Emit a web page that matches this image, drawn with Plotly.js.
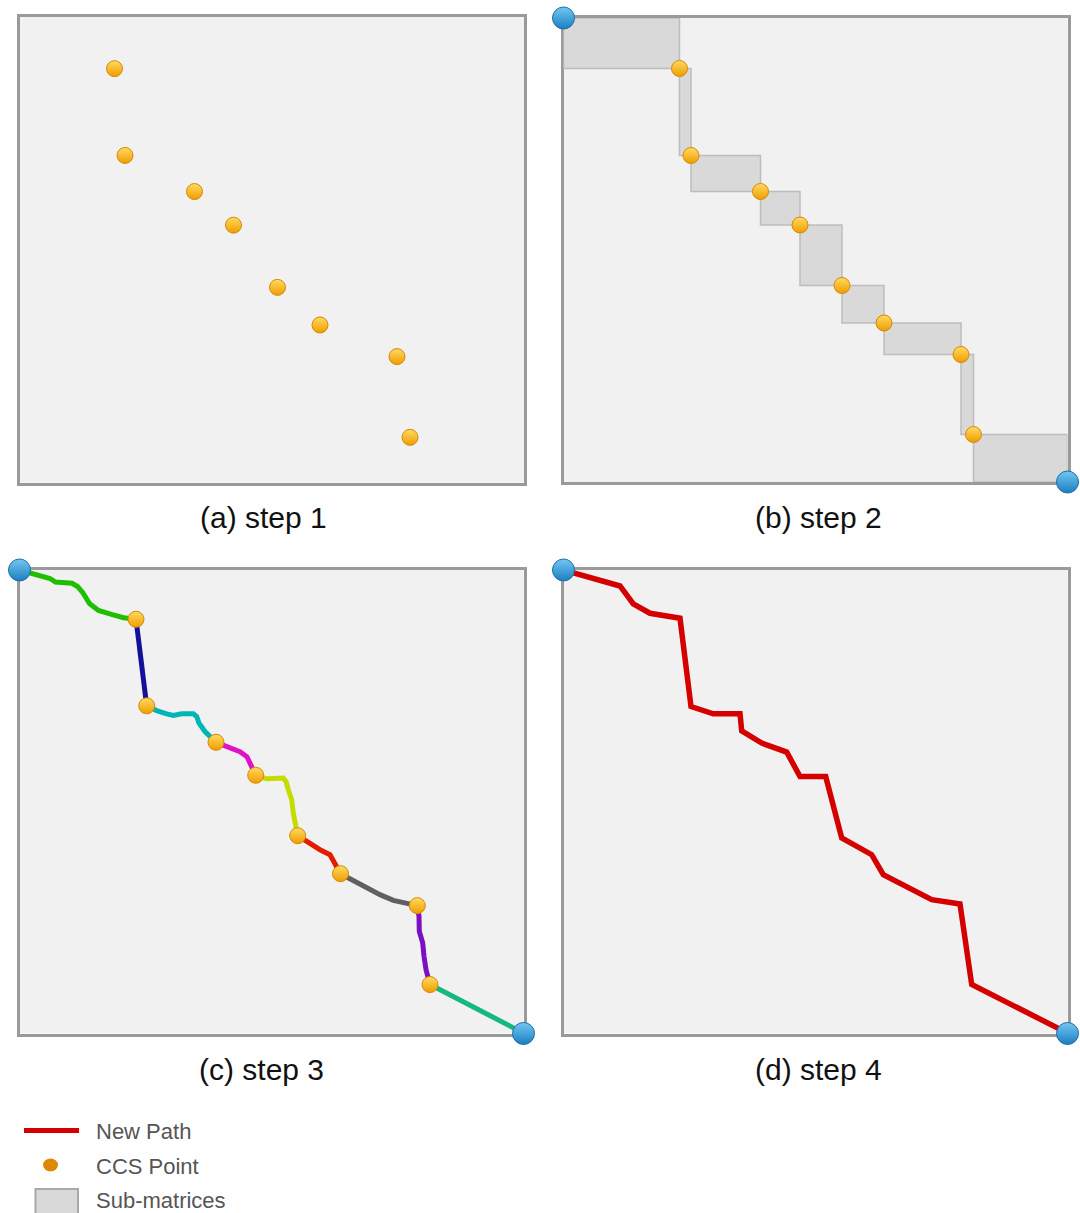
<!DOCTYPE html>
<html><head><meta charset="utf-8">
<script src="https://cdn.plot.ly/plotly-3.0.1.min.js"></script>
<style>html,body{margin:0;padding:0;background:#fff;} #chart{width:1080px;height:1213px;}</style>
</head><body><div id="chart"></div>
<script>
// ---------- DATA (matrix cell coordinates, y grows downward) ----------
const matrixW = 504;
const matrixH = 464;

// (a) step 1 : CCS points
const step1X = [94.5, 105, 174.5, 213.5, 257.5, 300, 377, 390];
const step1Y = [51.5, 138, 174, 207.5, 269.5, 307, 338.5, 419];

// (b) step 2 : CCS points (sub-matrices span consecutive points)
const step2X = [116, 127.5, 197, 236.5, 278.5, 320.5, 397.5, 410];
const step2Y = [50.5, 137.5, 173.5, 207, 267.5, 305, 336.5, 416.5];

// (c) step 3 : CCS points and the warping path found in each sub-matrix
const step3X = [116.5, 127.2, 196.5, 236.2, 278.2, 321, 397.8, 410.5];
const step3Y = [49.3, 136, 172.5, 205.5, 266, 304, 336, 415];
const step3SegX = [
  [0, 12.5, 30.5, 36, 52.5, 58, 63.5, 70, 79, 92, 104, 116.5],
  [116.5, 121.8, 127.2],
  [127.2, 137.2, 147.2, 153.8, 162.2, 173.8, 177.2, 179.5, 185.5, 196.5],
  [196.5, 207.5, 220.5, 227.5, 232.5, 236.2],
  [236.2, 247.2, 263.8, 266.5, 268.8, 272.2, 273.8, 276.2, 278.2],
  [278.2, 288.8, 300.5, 310.5, 315.5, 321],
  [321, 330.5, 338.8, 348.8, 360.5, 373.8, 387.2, 397.8],
  [397.8, 399.5, 399.8, 403.2, 404.5, 406.5, 410.5],
  [410.5, 504]
];
const step3SegY = [
  [0, 3.5, 8.5, 12, 13.3, 16.5, 23, 33.5, 40.5, 44.5, 47.8, 49.3],
  [49.3, 92, 136],
  [136, 140.7, 144, 145.7, 144, 144, 146.7, 153.3, 161.7, 172.5],
  [172.5, 177, 182, 187, 197, 205.5],
  [205.5, 209, 208.3, 211.7, 220, 230, 243.3, 255, 266],
  [266, 273.3, 280, 285, 293.3, 304],
  [304, 309.3, 314, 318.3, 325, 330.7, 333.3, 336],
  [336, 346.7, 361.7, 373.3, 386.7, 400, 415],
  [415, 463.5]
];

// (d) step 4 : the new (merged) path
const step4PathX = [0, 56.5, 69.8, 86.5, 116.5, 127.5, 149.8, 176.5, 178.2, 198.2, 223.2, 236.5, 262.2, 278.2, 308.2, 319.8, 368.2, 396.5, 408.2, 504];
const step4PathY = [0, 16, 34, 43.3, 48.3, 136.7, 144, 144, 161, 173.3, 182.3, 206.7, 206.7, 268.3, 285, 305, 330, 334.3, 415, 463.5];

// start / end cells of the full matrix
const endX = [0, matrixW];
const endY = [0, matrixH];

// labels
const panelLabels = ['(a) step 1', '(b) step 2', '(c) step 3', '(d) step 4'];
const legendLabels = ['New Path', 'CCS Point', 'Sub-matrices'];

// ---------- STYLE ----------
const W = 1080, H = 1213;
const segColors = ['#1fbe00', '#14109c', '#00b5b5', '#e012c6', '#c6dc00', '#e31b00', '#606060', '#7a0fc4', '#14b97e'];
const ccsMarker = {size: 16, color: '#ffdb62', gradient: {type: 'vertical', color: '#f09c00'}, line: {color: '#d48a00', width: 1}};
const endMarker = {size: 22, color: '#74c6f2', gradient: {type: 'vertical', color: '#1a7fc0'}, line: {color: '#1d6fa5', width: 1}};

const px = v => v / W;
const py = v => 1 - v / H;

const traces = [];
function ccs(xs, ys, ax) {
  traces.push({x: xs, y: ys, xaxis: 'x' + ax, yaxis: 'y' + ax, type: 'scatter', mode: 'markers',
    marker: ccsMarker, cliponaxis: false, hoverinfo: 'skip'});
}
function ends(ax) {
  traces.push({x: endX, y: endY, xaxis: 'x' + ax, yaxis: 'y' + ax, type: 'scatter', mode: 'markers',
    marker: endMarker, cliponaxis: false, hoverinfo: 'skip'});
}

// (a)
ccs(step1X, step1Y, '');

// (b) sub-matrices between consecutive points
const bx = [0].concat(step2X, [matrixW]);
const by = [0].concat(step2Y, [matrixH]);
const rx = [], ry = [];
for (let i = 0; i < bx.length - 1; i++) {
  rx.push(bx[i], bx[i + 1], bx[i + 1], bx[i], bx[i], null);
  ry.push(by[i], by[i], by[i + 1], by[i + 1], by[i], null);
}
traces.push({x: rx, y: ry, xaxis: 'x2', yaxis: 'y2', type: 'scatter', mode: 'lines', fill: 'toself',
  fillcolor: '#d9d9d9', line: {color: '#bdbdbd', width: 1.5}, hoverinfo: 'skip'});
ccs(step2X, step2Y, '2');
ends('2');

// (c)
step3SegX.forEach((sx, i) => {
  traces.push({x: sx, y: step3SegY[i], xaxis: 'x3', yaxis: 'y3', type: 'scatter', mode: 'lines',
    line: {color: segColors[i], width: 5}, hoverinfo: 'skip'});
});
ccs(step3X, step3Y, '3');
ends('3');

// (d)
traces.push({x: step4PathX, y: step4PathY, xaxis: 'x4', yaxis: 'y4', type: 'scatter', mode: 'lines',
  line: {color: '#d40000', width: 5.5}, hoverinfo: 'skip'});
ends('4');

// panel boxes (inner edges, px)
const boxes = [
  [20, 524, 17, 482.5],
  [563.5, 1067.5, 18, 482],
  [19.5, 523.5, 570, 1033.5],
  [563.5, 1067.5, 570, 1033.5]
];
const layout = {
  width: W, height: H, margin: {l: 0, r: 0, t: 0, b: 0},
  paper_bgcolor: '#ffffff', plot_bgcolor: '#f1f1f1', showlegend: false,
  font: {family: 'Liberation Sans, Arial, sans-serif'},
  shapes: [], annotations: []
};
boxes.forEach((b, i) => {
  const s = i === 0 ? '' : String(i + 1);
  const common = {showgrid: false, zeroline: false, showticklabels: false, ticks: '',
    showline: true, mirror: true, linecolor: '#9a9a9a', linewidth: 3, layer: 'below traces', fixedrange: true};
  layout['xaxis' + s] = Object.assign({}, common, {domain: [px(b[0]), px(b[1])], range: [0, matrixW], anchor: 'y' + s});
  layout['yaxis' + s] = Object.assign({}, common, {domain: [py(b[3]), py(b[2])], range: [matrixH, 0], anchor: 'x' + s});
});

const labelPos = [[263, 517], [818, 518], [261, 1069], [818, 1069]];
panelLabels.forEach((t, i) => {
  layout.annotations.push({text: t, xref: 'paper', yref: 'paper', x: px(labelPos[i][0]), y: py(labelPos[i][1]),
    xanchor: 'center', yanchor: 'middle', showarrow: false, font: {size: 30, color: '#111111'}});
});

// legend
const legY = [1131, 1166, 1200];
legendLabels.forEach((t, i) => {
  layout.annotations.push({text: t, xref: 'paper', yref: 'paper', x: px(94), y: py(legY[i]),
    xanchor: 'left', yanchor: 'middle', showarrow: false, font: {size: 22, color: '#555555'}});
});
layout.shapes.push({type: 'line', xref: 'paper', yref: 'paper', x0: px(24), x1: px(79), y0: py(1130.5), y1: py(1130.5),
  line: {color: '#d40000', width: 5}});
layout.shapes.push({type: 'circle', xref: 'paper', yref: 'paper', x0: px(43), x1: px(58), y0: py(1158.5), y1: py(1171.5),
  fillcolor: '#dd8800', line: {width: 0}});
layout.shapes.push({type: 'rect', xref: 'paper', yref: 'paper', x0: px(35.5), x1: px(78), y0: py(1189), y1: py(1216),
  fillcolor: '#d9d9d9', line: {color: '#a8a8a8', width: 2}});

Plotly.newPlot('chart', traces, layout, {staticPlot: true, displayModeBar: false});
</script>
</body></html>
